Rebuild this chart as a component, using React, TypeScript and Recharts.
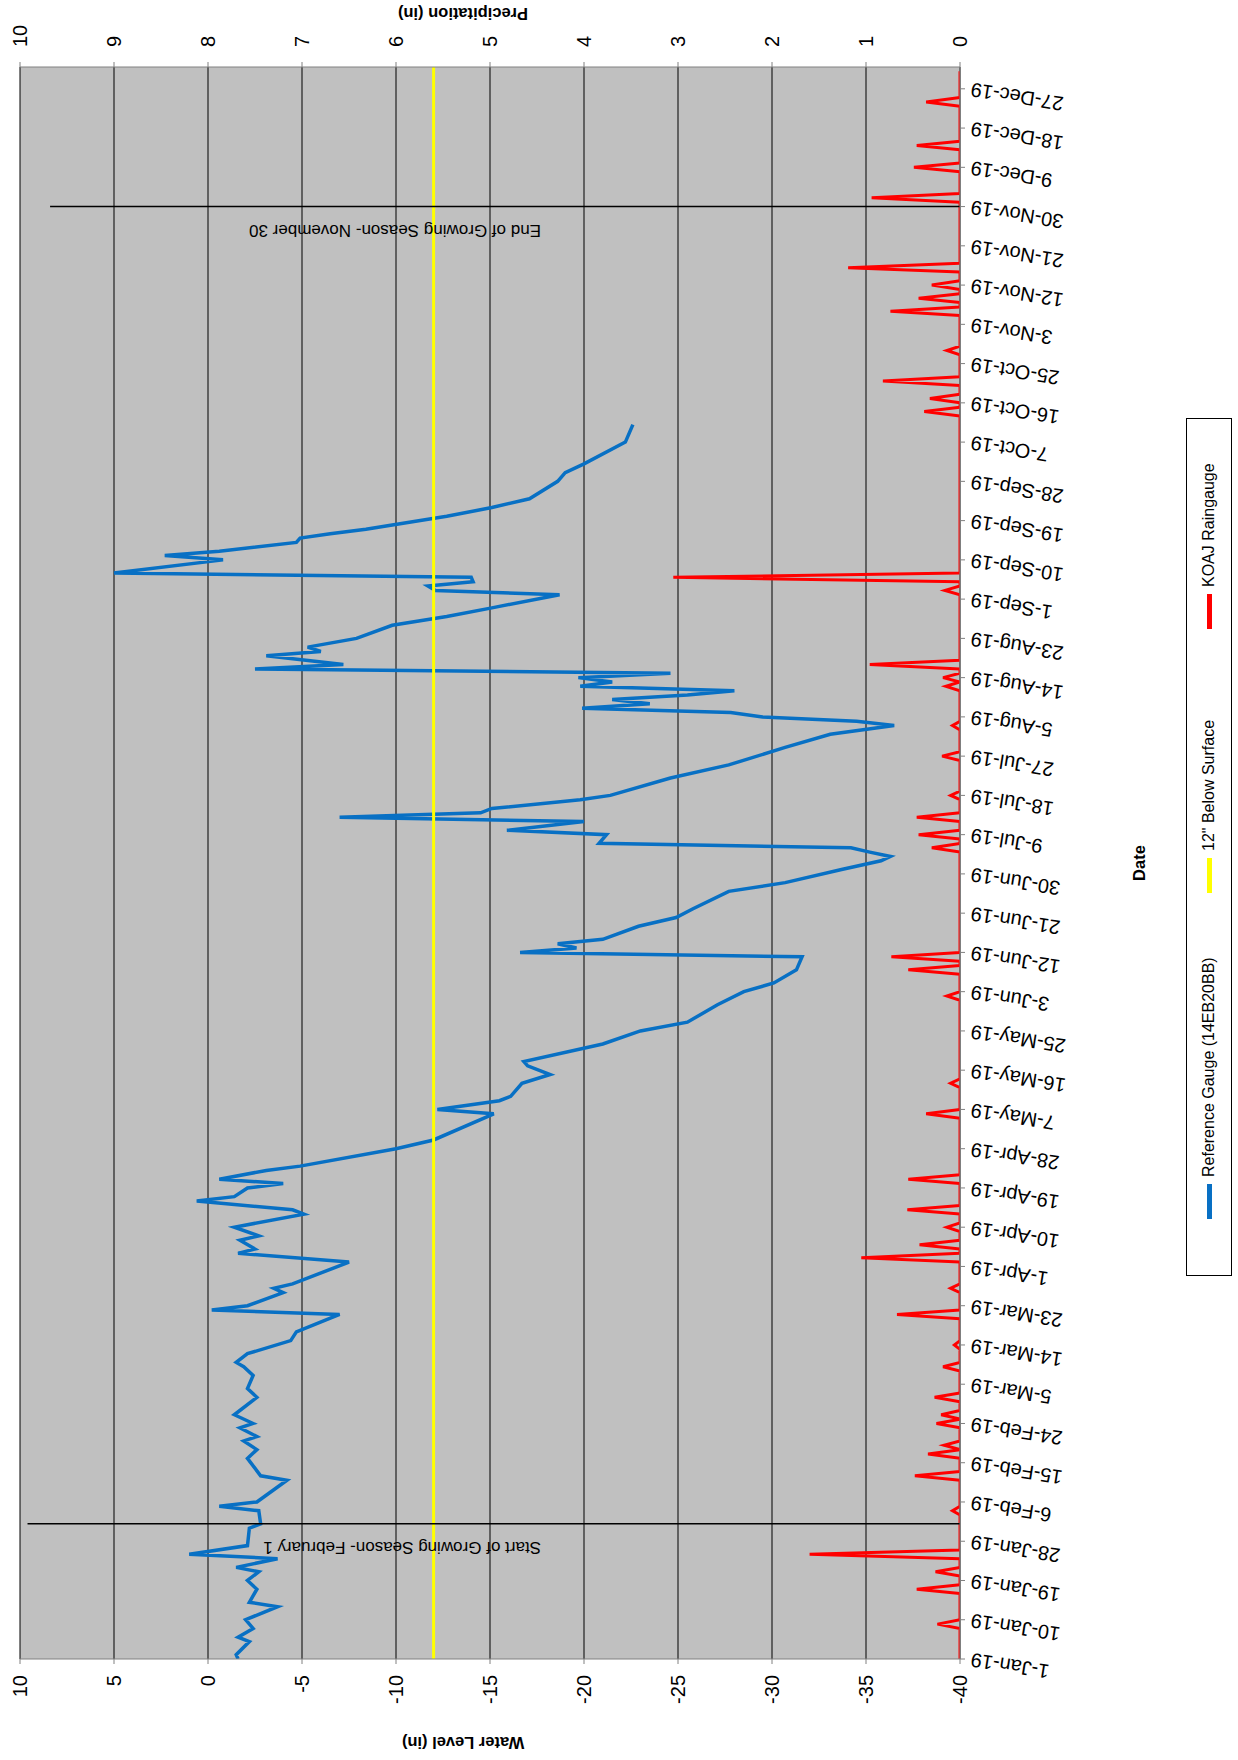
import React from 'react';
import { ComposedChart, Line, XAxis, YAxis, CartesianGrid, ReferenceLine } from 'recharts';

const FONT = '"Liberation Sans", Arial, sans-serif';

// date axis: day of year (0 = 1-Jan-19)
const tickDays = [0, 9, 18, 27, 36, 45, 54, 63, 72, 81, 90, 99, 108, 117, 126, 135, 144, 153, 162, 171, 180,
  189, 198, 207, 216, 225, 234, 243, 252, 261, 270, 279, 288, 297, 306, 315, 324, 333, 342, 351, 360];
const tickLabels = ['1-Jan-19', '10-Jan-19', '19-Jan-19', '28-Jan-19', '6-Feb-19', '15-Feb-19', '24-Feb-19',
  '5-Mar-19', '14-Mar-19', '23-Mar-19', '1-Apr-19', '10-Apr-19', '19-Apr-19', '28-Apr-19', '7-May-19',
  '16-May-19', '25-May-19', '3-Jun-19', '12-Jun-19', '21-Jun-19', '30-Jun-19', '9-Jul-19', '18-Jul-19',
  '27-Jul-19', '5-Aug-19', '14-Aug-19', '23-Aug-19', '1-Sep-19', '10-Sep-19', '19-Sep-19', '28-Sep-19',
  '7-Oct-19', '16-Oct-19', '25-Oct-19', '3-Nov-19', '12-Nov-19', '21-Nov-19', '30-Nov-19', '9-Dec-19',
  '18-Dec-19', '27-Dec-19'];

const waterTicks = [-40, -35, -30, -25, -20, -15, -10, -5, 0, 5, 10];
const precipTicks = [0, 1, 2, 3, 4, 5, 6, 7, 8, 9, 10];

// Reference Gauge (14EB20BB): [day, water level in]
const gaugeReadings: [number, number][] = [
  [0, -1.6], [1, -1.5], [4, -2.2], [5, -1.6], [7, -2.4], [9, -2.0], [12, -3.7], [13, -2.2], [16, -2.6],
  [18, -2.1], [20, -2.7], [21, -1.5], [23, -3.7], [24, 1.0], [26, -2.1], [30, -2.2], [31, -2.8], [34, -2.7],
  [35, -0.6], [36, -2.6], [41, -4.2], [42, -2.8], [46, -2.1], [48, -2.6], [50, -1.9], [51, -2.6], [53, -1.7],
  [54, -2.4], [56, -1.4], [60, -2.6], [62, -2.1], [65, -2.4], [67, -1.9], [68, -1.5], [70, -2.1], [73, -4.4],
  [75, -4.7], [79, -7.0], [80, -0.2], [81, -2.1], [84, -4.0], [85, -3.5], [86, -4.5], [91, -7.5], [93, -1.6],
  [94, -2.5], [96, -1.7], [97, -2.7], [99, -1.4], [102, -5.1], [103, -4.5], [105, 0.6], [106, -1.4],
  [108, -2.1], [109, -4.0], [110, -0.6], [112, -3.1], [113, -4.9], [117, -10.0], [119, -12.0], [125, -15.2],
  [126, -12.2], [128, -15.5], [129, -16.1], [132, -16.7], [134, -18.2], [136, -17.0], [137, -16.8],
  [141, -21.0], [144, -23.0], [146, -25.5], [150, -27.1], [153, -28.5], [155, -30.1], [158, -31.3],
  [161, -31.6], [162, -16.6], [163, -19.6], [164, -18.6], [165, -21.0], [168, -22.9], [170, -24.9],
  [172, -25.8], [176, -27.7], [178, -30.7], [181, -33.7], [183, -35.8], [184, -36.3], [185, -35.2],
  [186, -34.2], [187, -20.8], [189, -21.2], [190, -15.9], [192, -20.0], [193, -7.0], [194, -14.5],
  [195, -15.1], [197, -19.8], [198, -21.4], [202, -24.6], [205, -27.7], [209, -30.7], [212, -33.1],
  [214, -36.5], [215, -34.5], [216, -29.5], [217, -27.8], [218, -19.9], [219, -23.5], [220, -21.5],
  [221, -25.5], [222, -28.0], [223, -19.8], [224, -21.5], [225, -19.7], [226, -24.6], [227, -2.5],
  [228, -7.2], [230, -3.1], [231, -6.0], [232, -5.3], [234, -7.9], [237, -9.8], [239, -12.7], [241, -15.1],
  [244, -18.7], [245, -12.1], [246, -11.7], [247, -14.1], [248, -14.0], [249, 5.0], [252, -0.8], [253, 2.3],
  [254, -0.6], [256, -4.7], [257, -4.9], [258, -6.5], [259, -8.4], [260, -9.8], [262, -12.7], [264, -15.1],
  [266, -17.1], [270, -18.6], [272, -19.0], [274, -20.0], [279, -22.2], [281, -22.4], [283, -22.6],
];

// KOAJ Raingauge: [day, precipitation in] for wet days, all other days 0
const rainEvents: [number, number][] = [
  [8, 0.24], [16, 0.46], [20, 0.26], [24, 1.6], [34, 0.08], [42, 0.48], [47, 0.34], [49, 0.17], [54, 0.25],
  [56, 0.2], [60, 0.27], [67, 0.18], [72, 0.06], [79, 0.67], [85, 0.1], [92, 1.05], [95, 0.43], [99, 0.14],
  [103, 0.56], [110, 0.55], [125, 0.36], [132, 0.1], [152, 0.14], [158, 0.55], [161, 0.73], [186, 0.3],
  [189, 0.44], [193, 0.46], [198, 0.1], [207, 0.19], [214, 0.08], [223, 0.15], [225, 0.18], [228, 0.96],
  [245, 0.16], [248, 3.05], [286, 0.38], [289, 0.32], [293, 0.82], [300, 0.14], [309, 0.74], [312, 0.44],
  [315, 0.3], [319, 1.19], [335, 0.94], [342, 0.49], [347, 0.46], [357, 0.36],
];

const targetDepth = -12; // 12" below surface
const seasonStart = 31; // February 1
const seasonEnd = 333; // November 30

const gaugeData = gaugeReadings.map(([day, level]) => ({ day, level }));
const rainMap = new Map(rainEvents);
const rainData = Array.from({ length: 365 }, (_, day) => ({ day, rain: rainMap.get(day) ?? 0 }));

const DateTick = (props: any) => {
  const { x, y, payload } = props;
  const i = tickDays.indexOf(payload.value);
  return (
    <g transform={`translate(${x},${y})`}>
      <text transform="rotate(-81)" x={-4} dy="0.35em" textAnchor="end" fontSize={20} fill="#000" fontFamily={FONT}>
        {tickLabels[i]}
      </text>
    </g>
  );
};

const seasonLabel = (text: string) => (p: any) => {
  const { x } = p.viewBox;
  const ty = 541;
  return (
    <text x={x - 18} y={ty} transform={`rotate(-90, ${x - 18}, ${ty})`} textAnchor="start" fontSize={17} fill="#000" fontFamily={FONT}>
      {text}
    </text>
  );
};

const legendItems = [
  { name: 'Reference Gauge (14EB20BB)', color: '#0870c4', left: 56 },
  { name: '12" Below Surface', color: '#ffff00', left: 382 },
  { name: 'KOAJ Raingauge', color: '#ff0000', left: 646 },
];

export default function App() {
  return (
    <div style={{ position: 'absolute', left: 0, top: 0, width: 1238, height: 1760, overflow: 'hidden', background: '#fff' }}>
      <div style={{ position: 'absolute', left: 0, top: 0, width: 1760, height: 1238, transformOrigin: '0 0', transform: 'translateY(1760px) rotate(-90deg)' }}>
        <ComposedChart width={1760} height={1238} margin={{ top: 20, right: 0, bottom: 0, left: 0 }}>
          <CartesianGrid xAxisId="date" yAxisId="water" vertical={false} stroke="#000" strokeWidth={1} fill="#c0c0c0" fillOpacity={1} />
          <XAxis
            xAxisId="date" dataKey="day" type="number" domain={[0, 365]} ticks={tickDays} interval={0}
            height={278} tick={<DateTick />} tickSize={5} stroke="#808080" allowDataOverflow
            label={(p: any) => {
              const { x, y, width } = p.viewBox;
              return <text x={x + width / 2} y={y + 179} dy="0.35em" textAnchor="middle" fontSize={16.5} fontWeight="bold" fill="#000" fontFamily={FONT}>Date</text>;
            }}
          />
          <YAxis
            yAxisId="water" orientation="left" type="number" domain={[-40, 10]} ticks={waterTicks} interval={0}
            width={101} tickSize={5} tickMargin={11} stroke="#808080" allowDataOverflow
            tick={{ fontSize: 20, fill: '#000', fontFamily: FONT }}
            label={() => (
              <text x={17} y={463} dy="0.35em" transform="rotate(-90, 17, 463)" textAnchor="middle" fontSize={16.5} fontWeight="bold" fill="#000" fontFamily={FONT}>Water Level (in)</text>
            )}
          />
          <YAxis
            yAxisId="precip" orientation="right" type="number" domain={[0, 10]} ticks={precipTicks} interval={0}
            width={67} tickSize={5} tickMargin={15} stroke="#808080" allowDataOverflow
            tick={{ fontSize: 20, fill: '#000', fontFamily: FONT }}
            label={() => (
              <text x={1746} y={463} dy="0.35em" transform="rotate(-90, 1746, 463)" textAnchor="middle" fontSize={16.5} fontWeight="bold" fill="#000" fontFamily={FONT}>Precipitation (in)</text>
            )}
          />
          <Line
            data={rainData} dataKey="rain" xAxisId="date" yAxisId="precip" type="linear"
            stroke="#ff0000" strokeWidth={3} dot={false} isAnimationActive={false}
          />
          <Line
            data={gaugeData} dataKey="level" xAxisId="date" yAxisId="water" type="linear"
            stroke="#0870c4" strokeWidth={3.5} dot={false} isAnimationActive={false}
          />
          <ReferenceLine xAxisId="date" yAxisId="water" y={targetDepth} stroke="#ffff00" strokeWidth={3} />
          <ReferenceLine
            xAxisId="date" yAxisId="water" segment={[{ x: seasonStart, y: 9.6 }, { x: seasonStart, y: -40 }]}
            stroke="#000" strokeWidth={1.5} label={seasonLabel('Start of Growing Season- February 1')}
          />
          <ReferenceLine
            xAxisId="date" yAxisId="water" segment={[{ x: seasonEnd, y: 8.4 }, { x: seasonEnd, y: -40 }]}
            stroke="#000" strokeWidth={1.5} label={seasonLabel('End of Growing Season- November 30')}
          />
        </ComposedChart>
        <div style={{ position: 'absolute', left: 484, top: 1186, width: 858, height: 46, border: '1px solid #000', boxSizing: 'border-box', background: '#fff', fontFamily: FONT, fontSize: 16 }}>
          {legendItems.map((it) => (
            <div key={it.name} style={{ position: 'absolute', left: it.left, top: 0, height: 44, display: 'flex', alignItems: 'center', whiteSpace: 'nowrap' }}>
              <span style={{ display: 'inline-block', width: 35, height: 5, background: it.color, marginRight: 7 }} />
              <span>{it.name}</span>
            </div>
          ))}
        </div>
      </div>
    </div>
  );
}
